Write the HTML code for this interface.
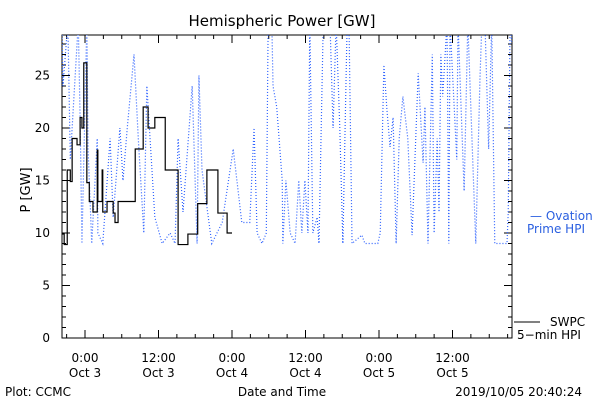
<!DOCTYPE html>
<html><head><meta charset="utf-8"><style>
body{margin:0;background:#fff}
svg text{font-family:"DejaVu Sans","Liberation Sans",sans-serif;font-size:12px}
</style></head><body>
<svg id="c" width="600" height="400" xmlns="http://www.w3.org/2000/svg">
<defs><clipPath id="pc"><rect x="62" y="35" width="450" height="303"/></clipPath></defs>
<text x="282" y="26" text-anchor="middle" style="font-size:15px">Hemispheric Power [GW]</text>
<text transform="translate(30,190) rotate(-90)" text-anchor="middle" style="font-size:13px">P [GW]</text>
<rect x="62" y="35" width="450" height="303" fill="none" stroke="#000"/>
<g id="ticks"></g>
<g id="series" clip-path="url(#pc)"></g>
<text x="530" y="220" fill="#2a5fe0">— Ovation</text>
<text x="527" y="233" fill="#2a5fe0">Prime HPI</text>
<line x1="514" y1="322" x2="540" y2="322" stroke="#000"/>
<text x="550" y="326">SWPC</text>
<text x="517" y="339">5−min HPI</text>
<text x="5" y="396">Plot: CCMC</text>
<text x="282" y="396" text-anchor="middle">Date and Time</text>
<text x="582" y="396" text-anchor="end">2019/10/05 20:40:24</text>
</svg>
<script>
const yTicks=[0,5,10,15,20,25];
const xTickHours=[0,12,24,36,48,60];
const xTickTime=["0:00","12:00","0:00","12:00","0:00","12:00"];
const xTickDate=["Oct 3","Oct 3","Oct 4","Oct 4","Oct 5","Oct 5"];
const swpcHours=[-3.9,-3.4,-2.9,-2.4,-2.1,-1.3,-0.8,-0.5,-0.2,0.3,0.7,1.3,2.0,2.1,2.8,2.9,3.6,4.6,4.9,5.4,6.9,8.2,9.5,10.3,11.4,13.1,15.2,16.3,16.8,18.4,19.9,21.7,23.2,24];
const swpcValues=[9.9,8.9,16,14.9,19,18.4,21,20,26.2,14.8,13,12,17.9,13,16,12,13,11.9,11,13,13,18,22,20,21,16,8.9,8.9,9.9,12.8,16,11.9,10,10];
const ovHours=[-3.8,-3.6,-2.8,-2.4,-1.1,-0.8,-0.5,0.3,0.5,1.1,2.0,2.1,2.9,4.1,4.6,5.7,6.2,6.9,8.0,8.7,9.6,10.1,11.4,12.6,13.9,14.7,15.2,16.0,17.5,18.3,18.6,19.1,20.7,22.4,24.2,25.6,26.9,27.6,28.1,28.9,29.6,29.9,30.5,30.7,31.3,32.2,32.3,32.8,33.5,34.3,34.9,35.4,35.9,36.4,36.7,37.2,37.9,38.2,38.9,40.0,40.5,41.0,41.6,42.1,42.8,43.1,43.6,45.2,45.7,47.8,48.2,48.8,49.3,49.8,50.3,50.8,51.3,51.9,52.7,53.4,54.4,55.2,55.5,56.0,56.7,57.0,57.5,57.8,58.1,58.4,59.1,59.4,59.6,60.7,60.9,61.9,62.5,63.3,63.8,64.5,64.8,65.3,65.9,66.4,66.9,68.9,69.1,69.4,69.7];
const ovValues=[30,24,30,17,30,21,9,30,18,9,19,10,9,19,11.5,20,15,20,27,19,10,24,11.5,9,10,9,19,12,24,9,25,16,9,11,18,11,11,20,10,9,10,30,30,24,22,15,9,15,10,9,15,10,15,10,30,10,11.5,9,30,30,20,30,20,9,30,30,9,9.8,9,9,10,26,21.7,18.2,21,9,19,23,19,9.8,25.2,16.7,22,9,27,10,19,12,27,23,30,9,30,17,30,14,30,17,9,25,30,30,18,30,9,9,12,30,28];
const X=h=>85+h*6.125, Y=v=>338-v*10.5;
const NS="http://www.w3.org/2000/svg";
const tk=document.getElementById('ticks'), sr=document.getElementById('series'), svg=document.getElementById('c');
function mk(tag,attrs,parent){const e=document.createElementNS(NS,tag);for(const k in attrs)e.setAttribute(k,attrs[k]);parent.appendChild(e);return e;}
for(let v=0;v<=28;v++){const y=Y(v),L=v%5===0?8:4;
 const a=mk('line',{x1:62,x2:62+L,y1:y,y2:y,stroke:'#000'},tk);
 
 
 const b=mk('line',{x1:512,x2:512-L,y1:y,y2:y,stroke:'#000'},tk);
 
 }
yTicks.forEach(v=>{const t=mk('text',{x:50,y:Y(v)+4,'text-anchor':'end'},svg);t.textContent=v;
 
 });
for(let h=-3;h<=69;h+=3){const x=X(h),L=h%12===0?8:4;
 const a=mk('line',{x1:x,x2:x,y1:338,y2:338-L,stroke:'#000'},tk);
 
 
 const b=mk('line',{x1:x,x2:x,y1:35,y2:35+L,stroke:'#000'},tk);
 
 }
xTickHours.forEach((h,i)=>{const t=mk('text',{x:X(h),y:362,'text-anchor':'middle'},svg);t.textContent=xTickTime[i];
 
 
 const d=mk('text',{x:X(h),y:377,'text-anchor':'middle'},svg);d.textContent=xTickDate[i];
 
 });
const ov=mk('polyline',{points:ovHours.map((h,i)=>X(h)+','+Y(ovValues[i])).join(' '),fill:'none',stroke:'#2a5fff','stroke-width':1.2,'stroke-dasharray':'1,2'},sr);


let sp=[];
swpcHours.forEach((h,i)=>{if(i>0)sp.push(X(h)+','+Y(swpcValues[i-1]));sp.push(X(h)+','+Y(swpcValues[i]));});
const sw=mk('polyline',{points:sp.join(' '),fill:'none',stroke:'#000','stroke-width':1.2},sr);


</script>
</body></html>
